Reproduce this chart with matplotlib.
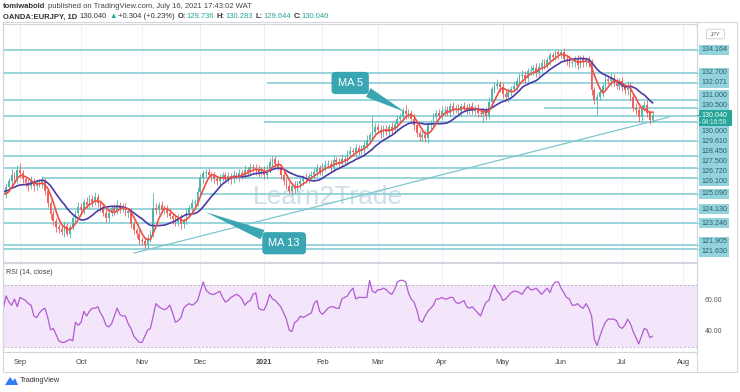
import numpy as np
import pandas as pd
import matplotlib
matplotlib.use("Agg")
import matplotlib.pyplot as plt
from matplotlib.patches import Rectangle, FancyBboxPatch, Polygon

plt.rcParams['font.family'] = ['Liberation Sans', 'DejaVu Sans']

# EUR/JPY daily closes (a few earlier bars only feed the MAs)
first_day = "2020-08-03"
prior_closes = [124.6, 124.8, 124.6, 124.9, 125.1, 124.8, 125.2, 125.5, 125.7, 125.8,
                125.6, 125.4, 125.2, 124.9, 124.8]
closes = [
    125.1, 125.5, 125.9, 126.3, 126.0, 126.6, 126.4, 126.0, 125.8, 125.6,
    125.9, 125.6, 125.8, 125.7, 125.9, 125.3, 124.5, 123.8, 123.4, 123.0,
    122.9, 122.7, 123.1, 122.6, 123.0, 123.6, 123.9, 124.3, 124.1, 124.6,
    124.4, 124.8, 124.6, 124.9, 124.5, 124.3, 123.9, 123.6, 123.9, 124.2,
    124.0, 124.4, 124.2, 124.3, 123.9, 124.0, 123.2, 122.8, 122.6, 122.2,
    122.1, 121.9, 122.3, 122.6, 124.2, 124.1, 124.4, 124.1, 124.2, 123.9,
    123.7, 123.5, 123.3, 123.6, 123.2, 123.4, 123.9, 124.2, 124.5, 124.6,
    125.2, 126.1, 126.4, 126.5, 126.3, 126.2, 126.0, 125.9, 126.1, 126.3,
    126.0, 126.2, 126.0, 126.3, 126.2, 126.4, 126.3, 126.6, 126.5, 126.8,
    126.7, 126.6, 126.4, 126.6, 126.3, 126.6, 127.1, 127.3, 127.0, 126.8,
    126.3, 125.9, 125.6, 125.3, 125.6, 125.4, 125.7, 125.9, 126.1, 126.0,
    126.2, 126.3, 126.5, 126.7, 126.5, 126.8, 126.9, 127.0, 126.8, 127.2,
    127.1, 127.0, 127.3, 127.2, 127.6, 127.8, 127.7, 128.0, 127.8, 127.9,
    128.2, 128.5, 128.8, 129.0, 129.3, 129.1, 128.9, 129.2, 129.0, 129.3,
    129.1, 129.5, 129.8, 129.9, 130.3, 130.1, 130.2, 129.8, 129.4, 128.9,
    128.7, 128.8, 128.6, 129.4, 129.5, 129.9, 130.2, 130.0, 130.3, 130.4,
    130.2, 130.6, 130.4, 130.5, 130.3, 130.6, 130.5, 130.4, 130.6, 130.3,
    130.5, 130.2, 130.1, 130.3, 130.0, 130.9, 131.7, 131.9, 132.0, 131.8,
    131.4, 131.2, 131.5, 131.7, 131.9, 132.2, 132.5, 132.6, 132.4, 132.8,
    132.9, 133.0, 132.7, 133.1, 133.3, 133.2, 133.5, 133.8, 133.7, 134.0,
    133.9, 134.0, 133.6, 133.5, 133.3, 133.4, 133.5, 133.2, 133.6, 133.4,
    133.5, 133.3, 131.6, 131.0, 131.2, 131.5, 131.9, 132.3, 132.2, 132.4,
    132.1, 131.9, 132.2, 131.8, 131.6, 131.9, 131.2, 130.5, 130.4, 129.9,
    130.5, 130.7, 130.2, 129.736, 130.04,
]
wick_up = [
    .2, .3, .2, .35, .2, .3, .45, .2, .25, .2,
    .3, .2, .25, .2, .3, .2, .15, .2, .3, .15,
    .2, .25, .3, .15, .2, .25, .2, .3, .25, .2,
    .3, .2, .25, .3, .2, .15, .2, .25, .3, .2,
    .25, .3, .2, .2, .25, .15, .2, .2, .15, .2,
    .2, .3, .25, .2, .95, .3, .2, .25, .2, .2,
    .25, .2, .3, .2, .25, .2, .3, .2, .25, .2,
    .3, .25, .2, .15, .2, .2, .3, .2, .25, .2,
    .2, .25, .2, .3, .2, .25, .2, .3, .2, .25,
    .2, .25, .3, .2, .25, .3, .25, .15, .2, .25,
    .2, .3, .2, .25, .2, .3, .2, .25, .2, .3,
    .2, .25, .2, .3, .2, .25, .3, .2, .25, .3,
    .2, .25, .3, .2, .25, .3, .2, .25, .2, .3,
    .25, .3, .2, 1.0, .25, .2, .3, .2, .25, .2,
    .3, .2, .25, .3, .2, .4, .25, .2, .3, .2,
    .2, .25, .3, .2, .25, .3, .2, .25, .3, .2,
    .25, .2, .3, .2, .25, .2, .3, .25, .2, .3,
    .2, .25, .3, .2, .25, .3, .2, .25, .3, .2,
    .3, .2, .25, .2, .3, .25, .2, .3, .25, .2,
    .25, .2, .3, .2, .25, .3, .2, .2, .25, .15,
    .15, .15, .25, .2, .3, .2, .25, .3, .2, .25,
    .2, .25, .3, .2, .25, .3, .2, .25, .2, .3,
    .25, .3, .2, .25, .2, .3, .25, .2, .3, .25,
    .2, .25, .3, .2, .243,
]
wick_dn = [
    .2, .25, .2, .3, .25, .2, .3, .2, .25, .3,
    .2, .3, .25, .2, .25, .3, .2, .3, .25, .3,
    .25, .2, .3, .15, .25, .2, .3, .2, .25, .3,
    .2, .25, .3, .2, .25, .3, .2, .25, .3, .2,
    .25, .2, .3, .25, .2, .3, .25, .2, .3, .25,
    .2, .27, .3, .25, .2, .3, .25, .2, .3, .25,
    .2, .3, .25, .2, .3, .25, .2, .3, .25, .2,
    .25, .2, .3, .25, .2, .3, .2, .25, .3, .2,
    .25, .2, .3, .25, .2, .3, .25, .2, .3, .25,
    .2, .3, .25, .2, .3, .25, .2, .3, .25, .2,
    .3, .25, .2, .2, .3, .25, .2, .3, .25, .2,
    .25, .2, .3, .25, .2, .3, .25, .2, .3, .25,
    .2, .3, .25, .2, .3, .25, .2, .3, .25, .2,
    .3, .25, .2, .3, .25, .2, .3, .25, .2, .3,
    .25, .2, .3, .25, .2, .3, .25, .2, .3, .25,
    .3, .25, .25, .3, .2, .25, .3, .2, .25, .3,
    .2, .25, .3, .2, .25, .3, .2, .25, .3, .2,
    .25, .3, .2, .5, .25, .2, .3, .25, .2, .3,
    .25, .2, .3, .25, .2, .3, .25, .2, .3, .25,
    .2, .3, .25, .2, .3, .25, .2, .3, .25, .2,
    .3, .25, .2, .3, .25, .2, .3, .25, .2, .3,
    .25, .2, .3, .25, .95, .2, .3, .25, .2, .3,
    .25, .2, .3, .25, .2, .3, .25, .2, .3, .3,
    .25, .2, .3, .25, .092,
]
# RSI(14, close) as shown in the lower pane, one value per visible bar
rsi_values = [
    55, 63, 59, 57, 61, 56, 62, 61, 60, 58,
    57, 50, 49, 52, 54, 55, 49, 41, 42, 38,
    34, 33, 33, 34, 35, 34, 46, 44, 46, 53,
    50, 53, 55, 55, 56, 52, 49, 44, 43, 45,
    50, 55, 51, 50, 50, 45, 42, 37, 35, 33,
    33, 37, 41, 42, 50, 58, 56, 55, 54, 55,
    57, 52, 46, 47, 49, 55, 57, 58, 57, 58,
    60, 66, 72, 67, 65, 64, 64, 65, 66, 62,
    59, 60, 62, 63, 64, 63, 61, 57, 59, 60,
    64, 65, 55, 54, 54, 58, 64, 61, 60, 58,
    56, 52, 48, 41, 40, 46, 47, 50, 49, 50,
    51, 52, 58, 60, 53, 51, 53, 55, 56, 56,
    55, 55, 61, 62, 63, 66, 68, 61, 62, 62,
    62, 62, 73, 66, 65, 67, 67, 68, 67, 65,
    64, 67, 72, 73, 73, 72, 65, 61, 59, 54,
    47, 46, 50, 53, 55, 57, 61, 61, 62, 61,
    61, 62, 62, 59, 58, 59, 60, 56, 55, 56,
    54, 52, 50, 55, 59, 60, 66, 70, 66, 64,
    60, 61, 63, 65, 66, 66, 65, 64, 67, 69,
    67, 67, 68, 66, 64, 66, 68, 65, 70, 72,
    72, 68, 65, 62, 61, 57, 57, 58, 56, 55,
    58, 55, 50, 35, 31, 37, 42, 46, 48, 48,
    48, 47, 43, 42, 44, 48, 45, 40, 36, 32,
    37, 42, 41, 36, 37,
]

# horizontal levels drawn on the chart, and where each one starts (None = left edge)
levels = [134.164, 132.700, 132.071, 131.000, 130.500, 130.000, 129.610, 128.450,
          127.500, 126.720, 126.100, 125.090, 124.130, 123.246, 121.905, 121.630]
level_from = [None, None, "2021-01-04", None, "2021-05-24", None, "2021-01-01", None,
              None, None, "2020-09-11", "2020-12-01", None, None, None, None]
last_price = 130.040
countdown = "04:16:59"
trend_pts = [("2020-10-28", 121.37), ("2021-07-26", 129.93)]

months = ["2020-09-01", "2020-10-01", "2020-11-02", "2020-12-01", "2021-01-01", "2021-02-01",
          "2021-03-01", "2021-04-01", "2021-05-03", "2021-06-01", "2021-07-01", "2021-08-02"]
month_labels = ["Sep", "Oct", "Nov", "Dec", "2021", "Feb", "Mar", "Apr", "May", "Jun", "Jul", "Aug"]
rsi_ticks = [40, 60]

UP, DN = "#4fb5a9", "#ef5f5b"
MA5C, MA13C = "#ef4f45", "#4b3aa8"
LVL = "#86cdd6"
GRID = "#eef0f5"
FRAME = "#d4d7de"

n0 = len(prior_closes)
all_close = np.array(prior_closes + closes)
xi = np.arange(len(all_close))
axis_days = pd.bdate_range(first_day, "2021-08-31")


def day_index(s):
    return axis_days.searchsorted(pd.Timestamp(s))


W, H = 740, 392
fig = plt.figure(figsize=(W / 100, H / 100), dpi=100)


def box(x0, y0, x1, y1):
    return [x0 / W, 1 - y1 / H, (x1 - x0) / W, (y1 - y0) / H]


ax = fig.add_axes(box(3, 24, 697, 262))
rx = fig.add_axes(box(3, 263, 697, 352), sharex=ax)

for a in (ax, rx):
    for sp in a.spines.values():
        sp.set_color(FRAME)
        sp.set_linewidth(0.8)
    a.tick_params(length=0, labelleft=False, labelright=False)
    a.set_yticks([])
ax.tick_params(labelbottom=False)

# candles
vis = xi >= n0
xv = xi[vis]
c = all_close[vis]
o = np.r_[all_close[0], all_close[:-1]][vis]
hi = np.maximum(o, c) + np.array(wick_up)
lo = np.minimum(o, c) - np.array(wick_dn)
col = np.where(c >= o, UP, DN)
ax.vlines(xv, lo, hi, colors=col, lw=0.6, zorder=3)
ax.bar(xv, np.maximum(np.abs(c - o), 0.04), bottom=np.minimum(o, c), width=0.62,
       color=col, lw=0, zorder=3)

s = pd.Series(all_close)
ma5 = s.rolling(5).mean().values
ma13 = s.rolling(13).mean().values
ax.plot(xv, ma13[vis], color=MA13C, lw=1.2, zorder=4)
ax.plot(xv, ma5[vis], color=MA5C, lw=1.2, zorder=5)

xlim = (n0 - 0.13, n0 + 250.0)
ax.set_xlim(*xlim)
ax.set_ylim(120.81, 135.78)

# levels and trend line
for lv, st in zip(levels, level_from):
    x0 = xlim[0] if st is None else day_index(st)
    ax.plot([x0, xlim[1]], [lv, lv], color=LVL, lw=1.2, zorder=2, solid_capstyle="butt")
ax.plot([day_index(trend_pts[0][0]), day_index(trend_pts[1][0])],
        [trend_pts[0][1], trend_pts[1][1]], color="#7cc7cf", lw=0.9, zorder=2)

mticks = [day_index(m) for m in months]
for a in (ax, rx):
    for t in mticks:
        a.axvline(t, color=GRID, lw=0.7, zorder=0)

ax.text(0.5 * (xlim[0] + xlim[1]) - 8, 124.9, "Learn2Trade", fontsize=19, color="#cfdfe7",
        ha="center", va="center", zorder=1)

# callouts
CALL = "#3aa6b3"
ax.annotate("MA 5", xy=(n0 + 144.7, 130.25), xytext=(n0 + 125.0, 132.07), ha="center",
            va="center", color="white", fontsize=8, zorder=6,
            bbox=dict(boxstyle="round,pad=0.55,rounding_size=0.35", fc=CALL, ec="none"),
            arrowprops=dict(arrowstyle="wedge,tail_width=0.9,shrink_factor=0.5", fc=CALL,
                            ec="none", shrinkA=0, shrinkB=0))
ax.annotate("MA 13", xy=(n0 + 72.7, 123.96), xytext=(n0 + 101.2, 121.99), ha="center",
            va="center", color="white", fontsize=8, zorder=6,
            bbox=dict(boxstyle="round,pad=0.55,rounding_size=0.35", fc=CALL, ec="none"),
            arrowprops=dict(arrowstyle="wedge,tail_width=0.9,shrink_factor=0.5", fc=CALL,
                            ec="none", shrinkA=0, shrinkB=0))

# RSI pane
rx.set_ylim(26.8, 84.2)
rx.axhspan(30, 70, color="#f3e6fb", lw=0, zorder=0)
for lv in (30, 70):
    rx.axhline(lv, color="#b9b4c4", lw=0.7, ls=(0, (2, 2)), zorder=1)
rx.plot(xv, rsi_values, color="#b25bd0", lw=0.9, zorder=3)
rx.text(0.005, 0.88, "RSI (14, close)", transform=rx.transAxes, fontsize=5, color="#444")
rx.set_xticks(mticks)
rx.set_xticklabels(month_labels, fontsize=5.3, color="#444")
for t, lab in zip(rx.get_xticklabels(), month_labels):
    if lab == "2021":
        t.set_fontweight("bold")
rx.tick_params(axis="x", pad=5)
for v in rsi_ticks:
    yy = rx.transData.transform((0, v))[1] / H
    fig.text(705 / W, yy, f"{v:.2f}", fontsize=5, color="#555", va="center")

# outer frame and price-axis column
fig.add_artist(Rectangle((3 / W, 1 - 372 / H), 734 / W, 350 / H, transform=fig.transFigure,
                         fill=False, ec=FRAME, lw=0.8))
fig.add_artist(plt.Line2D([697 / W, 697 / W], [1 - 372 / H, 1 - 22 / H],
                          transform=fig.transFigure, color=FRAME, lw=0.8))

# price labels on the right, spread apart so they do not overlap
items = [[H - ax.transData.transform((0, lv))[1], 5, 5, False, lv] for lv in levels]
items.append([H - ax.transData.transform((0, last_price))[1], 5, 11, True, last_price])
items.sort(key=lambda it: it[0])
for _ in range(200):
    for a_, b_ in zip(items[:-1], items[1:]):
        over = (a_[0] + a_[2]) - (b_[0] - b_[1])
        if over > 0:
            if a_[3]:
                b_[0] += over
            elif b_[3]:
                a_[0] -= over
            else:
                a_[0] -= over / 2
                b_[0] += over / 2
for yc, up_h, dn_h, cur, lv in items:
    fc = "#26a69a" if cur else "#92d3dd"
    wdt = 33 if cur else 30
    fig.add_artist(Rectangle((699 / W, 1 - (yc + dn_h) / H), wdt / W, (up_h + dn_h) / H,
                             transform=fig.transFigure, fc=fc, ec="none"))
    ly = H - ax.transData.transform((0, lv))[1]
    fig.add_artist(plt.Line2D([697 / W, 699.5 / W], [1 - ly / H, 1 - ly / H],
                              transform=fig.transFigure, color=fc, lw=0.8))
    if cur:
        fig.text(714.5 / W, 1 - yc / H, f"{lv:.3f}", fontsize=5.1, color="white",
                 ha="center", va="center")
        fig.text(714.5 / W, 1 - (yc + 7.5) / H, countdown, fontsize=4.7, color="#d9f2ef",
                 ha="center", va="center")
    else:
        fig.text(714 / W, 1 - yc / H, f"{lv:.3f}", fontsize=5.1, color="#2c5e66",
                 ha="center", va="center")

fig.add_artist(FancyBboxPatch((708 / W, 1 - 38 / H), 15 / W, 8 / H, transform=fig.transFigure,
                              boxstyle="round,pad=0.002", fc="white", ec="#c8ccd4", lw=0.6))
fig.text(715.5 / W, 1 - 34 / H, "JPY", fontsize=4.2, color="#666", ha="center", va="center")

# header
rend = fig.canvas.get_renderer()


def write_line(x_px, y_px, parts):
    x = x_px
    for txt, color, weight, gap in parts:
        t = fig.text(x / W, 1 - y_px / H, txt, fontsize=5.5, color=color, fontweight=weight,
                     va="center", ha="left")
        x = t.get_window_extent(renderer=rend).x1 + gap


DARK, TEAL = "#333333", "#26a69a"
write_line(3, 6, [("tomiwabold", DARK, "bold", 2.5),
                  ("published on TradingView.com, July 16, 2021 17:43:02 WAT", "#444", "normal", 0)])
write_line(3, 17, [("OANDA:EURJPY, 1D", DARK, "bold", 2.5), ("130.040", DARK, "normal", 2),
                   ("▲", TEAL, "normal", 2), ("+0.304 (+0.23%)", DARK, "normal", 2.5),
                   ("O:", DARK, "bold", 0.5), ("129.736", TEAL, "normal", 2.5),
                   ("H:", DARK, "bold", 0.5), ("130.283", TEAL, "normal", 2.5),
                   ("L:", DARK, "bold", 0.5), ("129.644", TEAL, "normal", 2.5),
                   ("C:", DARK, "bold", 0.5), ("130.040", TEAL, "normal", 0)])

# footer logo
fig.add_artist(Polygon([[5 / W, 1 - 385 / H], [10 / W, 1 - 377 / H], [13 / W, 1 - 381 / H],
                        [15 / W, 1 - 378 / H], [18 / W, 1 - 385 / H]], closed=True,
                       transform=fig.transFigure, fc="#2f7cf6", ec="none"))
fig.text(20 / W, 1 - 381 / H, "TradingView", fontsize=5.3, color="#333", va="center")

fig.savefig("out.png", dpi=100)
